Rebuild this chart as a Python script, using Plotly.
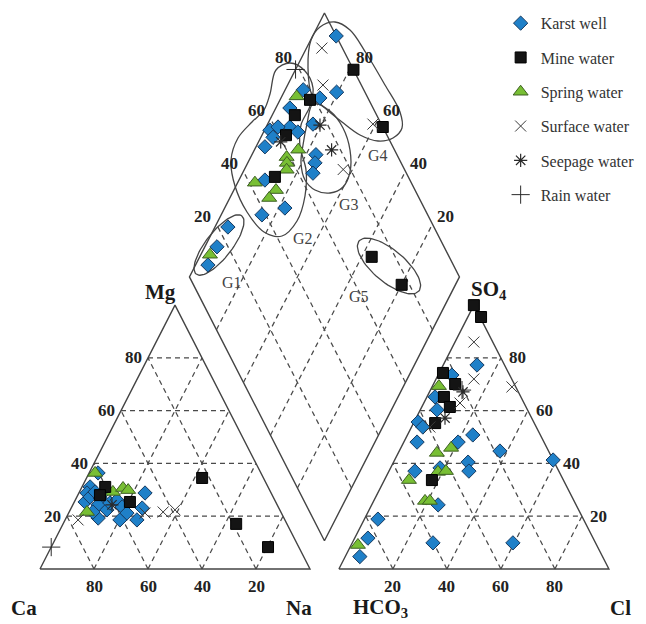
import numpy as np
import plotly.graph_objects as go

# ---------------- data ----------------
GAP = 10.7           # gap between the two triangles (percent units)
H = np.sqrt(3) / 2
TICKS = [20, 40, 60, 80]

# cation triangle: Na %, Mg %
karst_na = [3.3, 3.0, 3.0, 4.0, 4.9, 5.8, 8.8, 9.4, 13.6, 13.4, 8.9, 15.5, 18.7, 20.3, 26.6, 24.5, 26.3, 21.6, 11.9, 8.8]
karst_mg = [36.4, 31.1, 28.8, 25.4, 27.3, 29.2, 26.9, 24.3, 22.4, 25.0, 28.8, 26.1, 23.5, 18.6, 18.6, 28.8, 23.1, 21.2, 19.3, 21.6]
mine_na = [8.6, 8.2, 20.6, 42.8, 64.1, 80.3]
mine_mg = [31.1, 28.0, 25.4, 34.5, 17.1, 8.3]
spring_na = [2.2, 12.4, 15.4, 17.7, 6.6]
spring_mg = [36.4, 29.2, 30.7, 29.9, 21.6]
surface_na = [4.8, 28.3, 34.8, 38.8]
surface_mg = [18.6, 21.2, 21.6, 22.4]
seepage_na = [14.5]
seepage_mg = [24.3]
rain_na = [0.0]
rain_mg = [8.3]

# anion triangle: Cl %, SO4 %
karst_cl = [12.5, 5.1, 3.0, 6.2, 1.5, 4.2, 4.9, 24.2, 20.1, 37.3, 58.7, 27.6, 29.6, 9.6, 24.6, 5.0, 4.9, 5.4, 29.9, 59.5, 18.3]
karst_so4 = [77.3, 73.5, 65.2, 60.3, 55.7, 53.8, 48.1, 50.8, 48.1, 44.7, 41.3, 40.5, 37.1, 37.1, 24.3, 18.9, 11.7, 4.7, 9.9, 9.9, 38.3]
mine_cl = [0.0, 4.9, 1.4, 8.0, 6.3, 10.4, 8.0, 17.6]
mine_so4 = [100.0, 95.5, 74.3, 70.1, 65.2, 61.4, 55.3, 33.7]
spring_cl = [2.4, 14.3, 18.6, 18.3, 21.1, 9.1, 19.0, 20.8, 2.5]
spring_so4 = [69.3, 44.0, 45.9, 36.8, 37.1, 33.7, 25.8, 25.8, 9.1]
surface_cl = [7.0, 14.0, 29.6, 13.4, 6.8]
surface_so4 = [86.0, 72.0, 69.0, 62.9, 53.8]
seepage_cl = [12.4, 10.7]
seepage_so4 = [67.1, 57.2]
rain_cl = [11.7]
rain_so4 = [67.8]

# diamond: SO4+Cl %, Ca+Mg %
karst_s = [100, 89.5, 77.6, 82.2, 74.7, 69.2, 57.6, 57.4, 65.6, 67.6, 52.6, 61.2, 70.0, 68.1, 65.4, 46.3, 48.4, 38.6, 23.7, 15.9, 9.1]
karst_c = [91.3, 80.5, 93.3, 85.6, 83.2, 94.8, 98.0, 95.5, 91.2, 87.3, 96.7, 95.6, 76.3, 75.1, 73.9, 90.4, 77.7, 84.9, 95.2, 95.5, 95.4]
mine_s = [100, 100, 78.2, 69.7, 62.6, 50.6, 71.3, 77.1]
mine_c = [78.5, 56.8, 88.9, 91.6, 91.1, 87.3, 36.3, 19.9]
spring_s = [73.9, 64.4, 58.7, 57.7, 56.3, 42.1, 48.5, 44.5, 11.8]
spring_c = [94.5, 83.8, 86.7, 85.5, 84.3, 93.6, 84.4, 85.4, 96.6]
surface_s = [92.4, 85.8, 96.9, 77.3]
surface_c = [94.3, 86.9, 61.0, 63.4]
seepage_s = [77.1, 76.7, 59.4]
seepage_c = [80.4, 71.4, 91.8]
rain_s = [78.6]
rain_c = [100.0]

# ---------------- geometry helpers ----------------
def cat_xy(na, mg):
    na = np.asarray(na, float); mg = np.asarray(mg, float)
    return na + mg / 2, H * mg

def an_xy(cl, so4):
    cl = np.asarray(cl, float); so4 = np.asarray(so4, float)
    return 100 + GAP + cl + so4 / 2, H * so4

def dia_xy(s, c):
    s = np.asarray(s, float); c = np.asarray(c, float)
    return 100 + GAP / 2 + 0.5 * (s - c), H * GAP + H * (s + c)

# pixel -> data (for layout items only)
def P(px, py):
    return (px - 40) / 2.7, (569 - py) / 3.047

fig = go.Figure()
LINE = "#444444"
DASH = "#4a4a4a"

# ---------------- grid (dashed) ----------------
gx, gy = [], []
def seg(p, q):
    gx.extend([float(p[0]), float(q[0]), None]); gy.extend([float(p[1]), float(q[1]), None])

for k in TICKS:
    seg(cat_xy(0, k), cat_xy(100 - k, k))
    seg(cat_xy(k, 0), cat_xy(k, 100 - k))
    seg(cat_xy(100 - k, 0), cat_xy(0, 100 - k))
    seg(an_xy(0, k), an_xy(100 - k, k))
    seg(an_xy(k, 0), an_xy(k, 100 - k))
    seg(an_xy(100 - k, 0), an_xy(0, 100 - k))
    seg(dia_xy(k, 0), dia_xy(k, 100))
    seg(dia_xy(0, k), dia_xy(100, k))

fig.add_trace(go.Scatter(x=gx, y=gy, mode="lines", line=dict(color=DASH, width=1.25, dash="5px,4px"),
                         hoverinfo="skip", showlegend=False))

# ---------------- outlines ----------------
ox, oy = [], []
def poly(pts):
    for p in pts:
        ox.append(float(p[0])); oy.append(float(p[1]))
    ox.append(None); oy.append(None)

poly([cat_xy(0, 0), cat_xy(100, 0), cat_xy(0, 100), cat_xy(0, 0)])
poly([an_xy(0, 0), an_xy(100, 0), an_xy(0, 100), an_xy(0, 0)])
poly([dia_xy(0, 0), dia_xy(100, 0), dia_xy(100, 100), dia_xy(0, 100), dia_xy(0, 0)])
fig.add_trace(go.Scatter(x=ox, y=oy, mode="lines", line=dict(color=LINE, width=1.4),
                         hoverinfo="skip", showlegend=False))

# ---------------- group outlines ----------------
def ellipse_px(cx, cy, a, b, ang):
    t = np.linspace(0, 2 * np.pi, 80)
    th = np.radians(ang)
    xs = cx + a * np.cos(t) * np.cos(th) - b * np.sin(t) * np.sin(th)
    ys = cy + a * np.cos(t) * np.sin(th) + b * np.sin(t) * np.cos(th)
    return list(zip(xs, ys))

groups_px = {
    "G1": ellipse_px(219, 245, 37, 13, -52),
    "G5": ellipse_px(389, 266, 39, 16, 40),
    "G2": [(276, 70), (290, 63), (305, 71), (313, 88), (310, 106), (301, 125), (300, 146), (306, 170),
           (305, 196), (297, 221), (282, 236), (264, 232), (247, 212), (235, 186), (231, 160), (238, 138),
           (252, 122), (264, 110), (270, 94)],
    "G3": [(313, 104), (330, 111), (343, 128), (350, 150), (350, 172), (343, 187), (330, 193), (315, 190),
           (305, 180), (301, 163), (303, 145), (307, 124)],
    "G4": [(311, 40), (320, 27), (335, 22), (350, 30), (366, 53), (385, 85), (400, 112), (402, 128),
           (393, 138), (378, 141), (360, 135), (342, 122), (325, 108), (312, 95), (308, 68)],
}
for name, pts in groups_px.items():
    pts = list(pts) + [pts[0]]
    xy = [P(px, py) for px, py in pts]
    fig.add_trace(go.Scatter(x=[p[0] for p in xy], y=[p[1] for p in xy], mode="lines",
                             line=dict(color="#454545", width=1.3, shape="spline" if name in ("G2", "G3", "G4") else "linear",
                                       smoothing=1.0),
                             hoverinfo="skip", showlegend=False))

# ---------------- data points ----------------
styles = {
    "Karst well": dict(symbol="diamond", size=11, color="#1f80c8", line=dict(color="#173a60", width=1)),
    "Mine water": dict(symbol="square", size=11, color="#141414", line=dict(color="#000000", width=1)),
    "Spring water": dict(symbol="triangle-up", size=13, color="#78bf34", line=dict(color="#3d5f22", width=1)),
    "Surface water": dict(symbol="x-thin-open", size=11, color="#3a3a3a", line=dict(color="#3a3a3a", width=1)),
    "Seepage water": dict(symbol="asterisk-open", size=11, color="#2a2a2a", line=dict(color="#2a2a2a", width=1.2)),
    "Rain water": dict(symbol="cross-thin-open", size=13, color="#2a2a2a", line=dict(color="#2a2a2a", width=1)),
}
series = {
    "Karst well": (karst_na, karst_mg, karst_cl, karst_so4, karst_s, karst_c),
    "Mine water": (mine_na, mine_mg, mine_cl, mine_so4, mine_s, mine_c),
    "Spring water": (spring_na, spring_mg, spring_cl, spring_so4, spring_s, spring_c),
    "Surface water": (surface_na, surface_mg, surface_cl, surface_so4, surface_s, surface_c),
    "Seepage water": (seepage_na, seepage_mg, seepage_cl, seepage_so4, seepage_s, seepage_c),
    "Rain water": (rain_na, rain_mg, rain_cl, rain_so4, rain_s, rain_c),
}
order = ["Karst well", "Spring water", "Mine water", "Surface water", "Seepage water", "Rain water"]
legend_rank = {n: i for i, n in enumerate(series.keys())}
for name in order:
    na, mg, cl, so4, s, c = series[name]
    x1, y1 = cat_xy(na, mg)
    x2, y2 = an_xy(cl, so4)
    x3, y3 = dia_xy(s, c)
    xs = list(x1) + [None] + list(x2) + [None] + list(x3)
    ys = list(y1) + [None] + list(y2) + [None] + list(y3)
    fig.add_trace(go.Scatter(x=xs, y=ys, mode="markers", name=name, marker=styles[name],
                             legendgroup=name, legendrank=legend_rank[name] + 1))

# ---------------- text ----------------
FONT = "Liberation Serif, Times New Roman, serif"
ann = []
def text(x, y, t, size=16, bold=False, color="#222", xanchor="center", yanchor="middle", xshift=0, yshift=0):
    ann.append(dict(x=float(x), y=float(y), xref="x", yref="y", text=("<b>%s</b>" % t) if bold else t,
                    showarrow=False, font=dict(family=FONT, size=size, color=color),
                    xanchor=xanchor, yanchor=yanchor, xshift=xshift, yshift=yshift))

for k in TICKS:
    x, y = cat_xy(0, k); text(x, y, str(k), 17, True, xanchor="right", xshift=-4)
    x, y = cat_xy(100 - k, 0); text(x, y, str(k), 17, True, yanchor="top", yshift=-6)
    x, y = an_xy(100 - k, k); text(x, y, str(k), 17, True, xanchor="left", xshift=6)
    x, y = an_xy(k, 0); text(x, y, str(k), 17, True, yanchor="top", yshift=-6)
    x, y = dia_xy(k, 100); text(x, y, str(k), 17, True, xanchor="right", xshift=-3, yshift=8)
    x, y = dia_xy(100, k); text(x, y, str(k), 17, True, xanchor="left", xshift=3, yshift=8)

ion_labels = [("Mg", 160, 292), ("Ca", 24, 608), ("Na", 299, 608),
              ("SO<sub>4</sub>", 489, 290), ("HCO<sub>3</sub>", 380, 608), ("Cl", 620, 608)]
for t, px, py in ion_labels:
    x, y = P(px, py); text(x, y, t, 21, True, color="#1a1a1a")

group_labels = [("G1", 232, 282), ("G2", 303, 238), ("G3", 349, 204), ("G4", 378, 155), ("G5", 359, 296)]
for t, px, py in group_labels:
    x, y = P(px, py); text(x, y, t, 16, False, color="#444")

x0, y0 = P(0, 624); x1, y1 = P(646, 0)
fig.update_layout(
    width=646, height=624, margin=dict(l=0, r=0, t=0, b=0),
    paper_bgcolor="white", plot_bgcolor="white",
    xaxis=dict(range=[x0, x1], visible=False, fixedrange=True),
    yaxis=dict(range=[y0, y1], visible=False, fixedrange=True),
    annotations=ann,
    legend=dict(x=0.775, y=0.99, xanchor="left", yanchor="top", bgcolor="rgba(0,0,0,0)",
                font=dict(family=FONT, size=16, color="#333"), tracegroupgap=10.5, itemsizing="trace"),
    showlegend=True,
)
fig.write_html("out.html")
